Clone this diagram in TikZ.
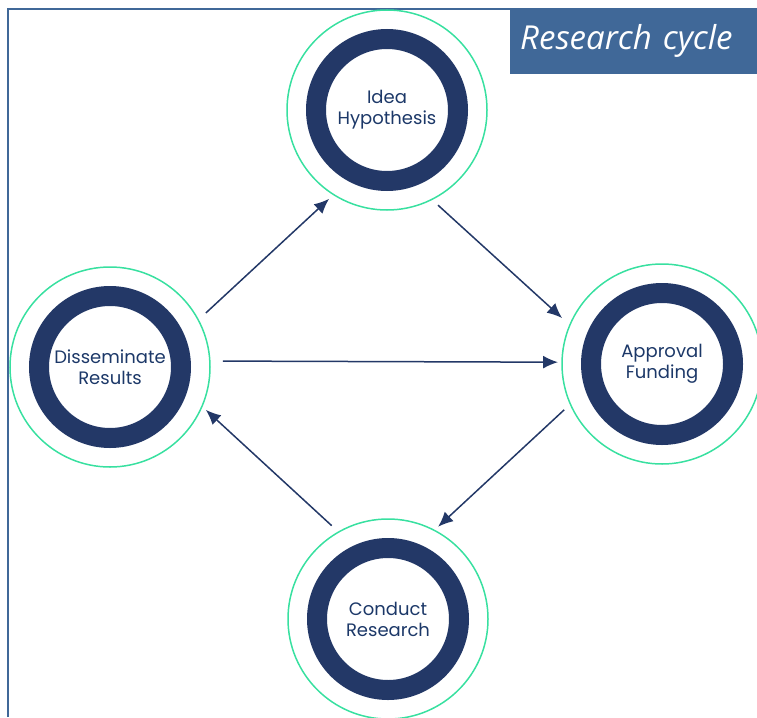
\documentclass[tikz,border=0pt]{standalone}
\usepackage{fontspec}
\setmainfont{Poppins}
\newfontfamily\titlefont{Open Sans}
\usetikzlibrary{arrows.meta}
\definecolor{navy}{HTML}{233867}
\definecolor{mint}{HTML}{38E0A0}
\definecolor{steel}{HTML}{406898}
\definecolor{ink}{HTML}{1C3868}

\begin{document}
\begin{tikzpicture}[x=1pt,y=-1pt]
\tikzstyle{halo}=[circle, minimum size=200pt, draw=mint, line width=1.5pt, inner sep=0pt]
\tikzstyle{ring}=[circle, minimum size=142pt, draw=navy, line width=20pt, inner sep=0pt, align=center, text=ink, font=\fontsize{18}{21}\selectfont]
\tikzstyle{connect}=[-{Latex[length=15pt,width=13pt]}, line width=1.5pt, draw=navy]
\tikzstyle{banner}=[rectangle, fill=steel, text=white, anchor=north west, minimum height=66pt, text width=227pt, inner xsep=10pt, align=left, font=\titlefont\itshape\fontsize{33}{35}\selectfont]

  \path[use as bounding box, clip] (0,0) rectangle (757,717);

  % frame and title
  \draw[steel, line width=2.5pt] (8,717) -- (8,9) -- (511,9);
  \node[banner] (title) at (510,8) {Research cycle};

  % stages
  \node[halo] (idea)   at (387,110) {};
  \node[halo] (fund)   at (662,364) {};
  \node[halo] (cond)   at (388,619) {};
  \node[halo] (dissem) at (110,367) {};

  \node[ring] (ideatext)   at (idea)   {Idea\\Hypothesis};
  \node[ring] (fundtext)   at (fund)   {Approval\\Funding};
  \node[ring] (condtext)   at (cond)   {Conduct\\Research};
  \node[ring] (dissemtext) at (dissem) {Disseminate\\Results};

  % arrows sit a little off the centre line
  \path ([shift={(-29.4:110)}]dissem.center) edge [connect] ([shift={(123.1:106)}]idea.center)
        ([shift={(61.8:108)}]idea.center)     edge [connect] ([shift={(204.7:110)}]fund.center)
        ([shift={(-3:113)}]dissem.center)     edge [connect] ([shift={(181:104)}]fund.center)
        ([shift={(154.9:108)}]fund.center)    edge [connect] ([shift={(-61.5:105)}]cond.center)
        ([shift={(-121.1:109)}]cond.center)   edge [connect] ([shift={(24.1:105)}]dissem.center);

\end{tikzpicture}
\end{document}
